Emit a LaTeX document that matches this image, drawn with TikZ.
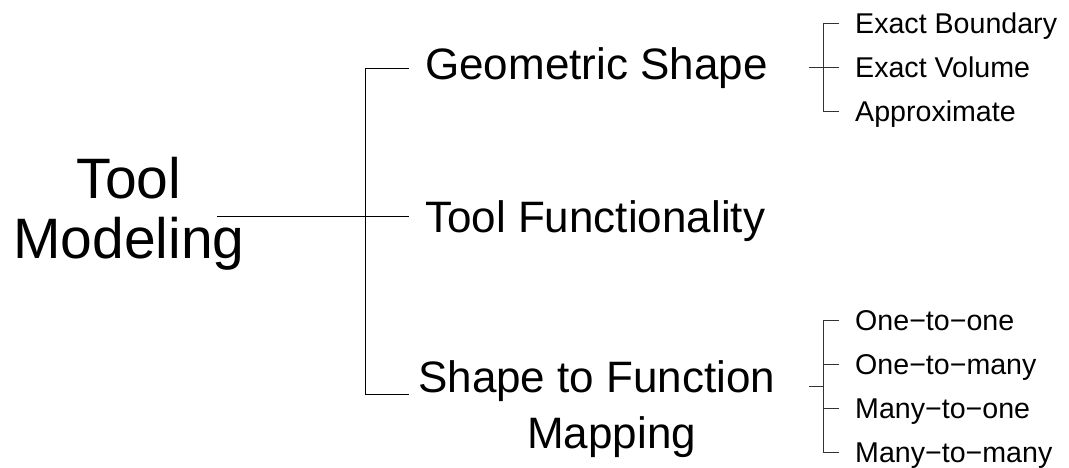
\documentclass[tikz,border=0pt]{standalone}
\usepackage{fontspec}
\setmainfont{Liberation Sans}
\begin{document}
\begin{tikzpicture}[x=1pt,y=-1pt,
  conn/.style={line width=0.8pt,black},
  subconn/.style={line width=0.7pt,black!80},
  top/.style={font=\fontsize{57}{60}\selectfont,inner sep=0pt,align=center},
  mid/.style={font=\fontsize{44}{50}\selectfont,inner sep=0pt,anchor=base west},
  leaf/.style={font=\fontsize{28.6}{32}\selectfont,inner sep=0pt,anchor=base west}]
\useasboundingbox (0,0) rectangle (1069,467);
% root
\node[top,anchor=north] (tm) at (129,157) {Tool\\Modeling};
% level 1
\node[mid] (gs) at (425,79) {Geometric Shape};
\node[mid] (tf) at (425,232) {Tool Functionality};
\node[mid] (sf) at (418,392) {Shape to Function};
\node[mid] (sfm) at (527,448) {Mapping};
% main bracket
\coordinate (r0) at (217,216);
\coordinate (bt) at (365,68);
\coordinate (bm) at (365,216);
\coordinate (bb) at (365,394);
\coordinate (et) at (409,68);
\coordinate (em) at (409,216);
\coordinate (eb) at (409,394);
\draw[conn] (r0) -- (em);
\draw[conn] (et) -- (bt) -- (bb) -- (eb);
% leaves top
\node[leaf] (l1) at (855,33.5) {Exact Boundary};
\node[leaf] (l2) at (855,77.5) {Exact Volume};
\node[leaf] (l3) at (855,121.5) {Approximate};
\coordinate (s1) at (809,67.5);
\coordinate (t1a) at (823,23.5);
\coordinate (t1c) at (823,111.5);
\coordinate (e1a) at (839,23.5);
\coordinate (e1b) at (839,67.5);
\coordinate (e1c) at (839,111.5);
\draw[subconn] (s1) -- (e1b);
\draw[subconn] (e1a) -- (t1a) -- (t1c) -- (e1c);
% leaves bottom
\node[leaf] (m1) at (855,330) {One−to−one};
\node[leaf] (m2) at (855,374) {One−to−many};
\node[leaf] (m3) at (855,418) {Many−to−one};
\node[leaf] (m4) at (855,462) {Many−to−many};
\coordinate (s2) at (809,386);
\coordinate (v2) at (823,386);
\coordinate (t2a) at (823,320);
\coordinate (t2b) at (823,364);
\coordinate (t2c) at (823,408);
\coordinate (t2d) at (823,452);
\coordinate (e2a) at (839,320);
\coordinate (e2b) at (839,364);
\coordinate (e2c) at (839,408);
\coordinate (e2d) at (839,452);
\draw[subconn] (s2) -- (v2);
\draw[subconn] (e2a) -- (t2a) -- (t2d) -- (e2d);
\draw[subconn] (t2b) -- (e2b);
\draw[subconn] (t2c) -- (e2c);
\end{tikzpicture}
\end{document}
